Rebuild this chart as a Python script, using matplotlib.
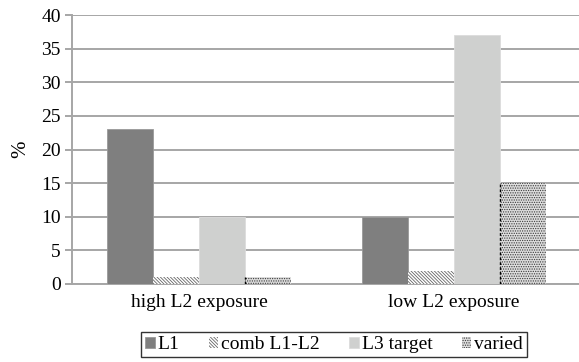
import matplotlib
matplotlib.use("Agg")
import matplotlib.pyplot as plt
import numpy as np

categories = ["high L2 exposure", "low L2 exposure"]
series_names = ["L1", "comb L1-L2", "L3 target", "varied"]
l1 = [23, 10]
comb = [1, 2]
l3 = [10, 37]
varied = [1, 15]
yticks = [0, 5, 10, 15, 20, 25, 30, 35, 40]

plt.rcParams["font.family"] = ["Liberation Serif", "DejaVu Serif"]
plt.rcParams["hatch.linewidth"] = 0.6

W, H = 579, 362
fig = plt.figure(figsize=(W / 100, H / 100), dpi=100)
ax = fig.add_axes([72 / W, 78 / H, 509 / W, 269 / H])

x = np.arange(len(categories))
bw = 0.181
grid_c = "#a6a6a6"

styles = [
    dict(color="#7f7f7f", edgecolor="#9a9a9a", linewidth=0.6),
    dict(color="white", edgecolor="#666666", hatch="\\" * 10, linewidth=0),
    dict(color="#cfd0cf", edgecolor="#dcdcdc", linewidth=0.6),
    dict(color="#dedede", edgecolor="#3a3a3a", hatch="." * 7, linewidth=0),
]
values = [l1, comb, l3, varied]
containers = []
for i, (vals, st, name) in enumerate(zip(values, styles, series_names)):
    containers.append(ax.bar(x + (i - 1.5) * bw, vals, width=bw, label=name,
                             zorder=3, **st))

# dashed dark left edge on the dotted bars
for p in containers[3].patches:
    ax.plot([p.get_x(), p.get_x()], [0, p.get_height()], color="black",
            linestyle=(0, (2, 1.5)), linewidth=1.0, zorder=4)

ax.set_xlim(-0.5, 1.5)
ax.set_ylim(0, 40)
ax.set_yticks(yticks)
ax.set_yticklabels([str(v) for v in yticks])
ax.set_xticks(x)
ax.set_xticklabels(categories)
ax.yaxis.grid(True, color=grid_c, linewidth=1.4, zorder=0)
ax.set_axisbelow(True)
for s in ["top", "right"]:
    ax.spines[s].set_visible(False)
ax.spines["left"].set_color(grid_c)
ax.spines["left"].set_linewidth(1.4)
ax.spines["bottom"].set_color(grid_c)
ax.spines["bottom"].set_linewidth(1.4)
ax.tick_params(axis="y", length=5, width=1.4, color=grid_c, labelsize=14, pad=3)
ax.tick_params(axis="x", length=0, labelsize=14, pad=7)
ax.set_ylabel("%", fontsize=15, labelpad=8)

leg = fig.legend(loc="lower center", bbox_to_anchor=(334 / W, 5 / H), ncol=4,
                 fontsize=14, frameon=True, fancybox=False, edgecolor="black",
                 handlelength=0.5, handleheight=0.5, handletextpad=0.15,
                 columnspacing=1.5, borderpad=0.2, borderaxespad=0)
leg.get_frame().set_linewidth(1.0)

fig.savefig("out.png", dpi=100)
